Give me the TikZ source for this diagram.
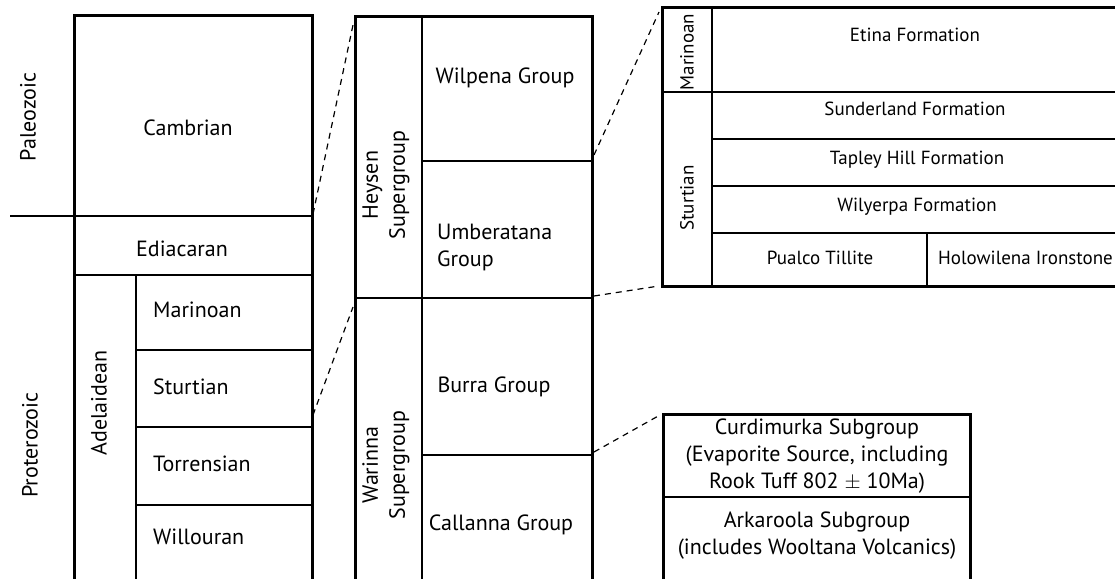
\documentclass[tikz,border=0pt]{standalone}
\usepackage{fontspec}
\setmainfont{PT Sans}
\begin{document}
\begin{tikzpicture}[x=1pt,y=-1pt,
    outer/.style={line width=3pt},
    inner/.style={line width=1.3pt},
    zoomline/.style={line width=1.2pt,dash pattern=on 6pt off 5pt},
    lbl/.style={font=\fontsize{22}{27}\selectfont,inner sep=0pt},
    small/.style={font=\fontsize{19}{23}\selectfont,inner sep=0pt},
    vlbl/.style={lbl,rotate=90,align=center}]
    \useasboundingbox (0,0) rectangle (1115,578);
    % Era column
    \draw[outer] (74,580) -- (74,16) -- (312,16) -- (312,580);
    \draw[inner] (10,216) -- (312,216);
    \draw[inner] (74,275) -- (312,275);
    \draw[inner] (136,275) -- (136,580);
    \draw[inner] (136,350) -- (312,350);
    \draw[inner] (136,427) -- (312,427);
    \draw[inner] (136,505) -- (312,505);
    \node[vlbl] (paleo) at (28,117) {Paleozoic};
    \node[vlbl] (protero) at (30,445) {Proterozoic};
    \node[lbl] (cambrian) at (188,128) {Cambrian};
    \node[lbl] (ediacaran) at (182,249) {Ediacaran};
    \node[vlbl] (adelaidean) at (99,403) {Adelaidean};
    \node[lbl,anchor=west] (marinoan) at (153,310) {Marinoan};
    \node[lbl,anchor=west] (sturtian) at (153,387) {Sturtian};
    \node[lbl,anchor=west] (torrensian) at (153,464) {Torrensian};
    \node[lbl,anchor=west] (willouran) at (153,537) {Willouran};
    \coordinate (cambBot) at (313,214);
    \coordinate (sturtLow) at (313,415);
    % Group column
    \draw[outer] (355,580) -- (355,17) -- (592,17) -- (592,580);
    \draw[inner] (422,17) -- (422,580);
    \draw[inner] (422,161) -- (592,161);
    \draw[inner] (355,298) -- (592,298);
    \draw[inner] (422,455) -- (592,455);
    \node[vlbl] (heysen) at (386,185) {Heysen\\Supergroup};
    \node[vlbl] (warinna) at (386,465) {Warinna\\Supergroup};
    \node[lbl] (wilpena) at (505,78) {Wilpena Group};
    \node[lbl,anchor=west,align=left] (umberatana) at (437,247) {Umberatana\\Group};
    \node[lbl] (burra) at (494,387) {Burra Group};
    \node[lbl] (callanna) at (501,525) {Callanna Group};
    \coordinate (midTop) at (353,25);
    \coordinate (midLow) at (353,307);
    \coordinate (wilpBot) at (594,155);
    \coordinate (heysBot) at (594,296);
    \coordinate (burrBot) at (594,452);
    % Heysen detail
    \draw[outer] (1130,8) -- (662,8) -- (662,286) -- (1130,286);
    \draw[inner] (712,8) -- (712,286);
    \draw[inner] (662,92) -- (1130,92);
    \draw[inner] (712,139) -- (1130,139);
    \draw[inner] (712,186) -- (1130,186);
    \draw[inner] (712,233) -- (1130,233);
    \draw[inner] (927,233) -- (927,286);
    \node[small,rotate=90] (marinoanB) at (687,52) {Marinoan};
    \node[small,rotate=90] (sturtianB) at (687,198) {Sturtian};
    \node[small] (etina) at (915,35) {Etina Formation};
    \node[small] (sunderland) at (915,109) {Sunderland Formation};
    \node[small] (tapley) at (917,160) {Tapley Hill Formation};
    \node[small] (wilyerpa) at (917,207) {Wilyerpa Formation};
    \node[small] (pualco) at (820,258) {Pualco Tillite};
    \node[small,anchor=west] (holowilena) at (938,258) {Holowilena Ironstone};
    \coordinate (detTop) at (659,12);
    \coordinate (detBot) at (659,286);
    % Callanna detail
    \draw[outer] (663,580) -- (663,414) -- (970,414) -- (970,580);
    \draw[inner] (663,497) -- (970,497);
    \node[lbl,align=center] (curdimurka) at (817,456) {Curdimurka Subgroup\\(Evaporite Source, including\\Rook Tuff 802 $\pm$ 10Ma)};
    \node[lbl,align=center] (arkaroola) at (817,536) {Arkaroola Subgroup\\(includes Wooltana Volcanics)};
    \coordinate (callTop) at (660,415);
    % Zoom lines
    \draw[zoomline] (cambBot) -- (midTop);
    \draw[zoomline] (sturtLow) -- (midLow);
    \draw[zoomline] (wilpBot) -- (detTop);
    \draw[zoomline] (heysBot) -- (detBot);
    \draw[zoomline] (burrBot) -- (callTop);
\end{tikzpicture}
\end{document}
